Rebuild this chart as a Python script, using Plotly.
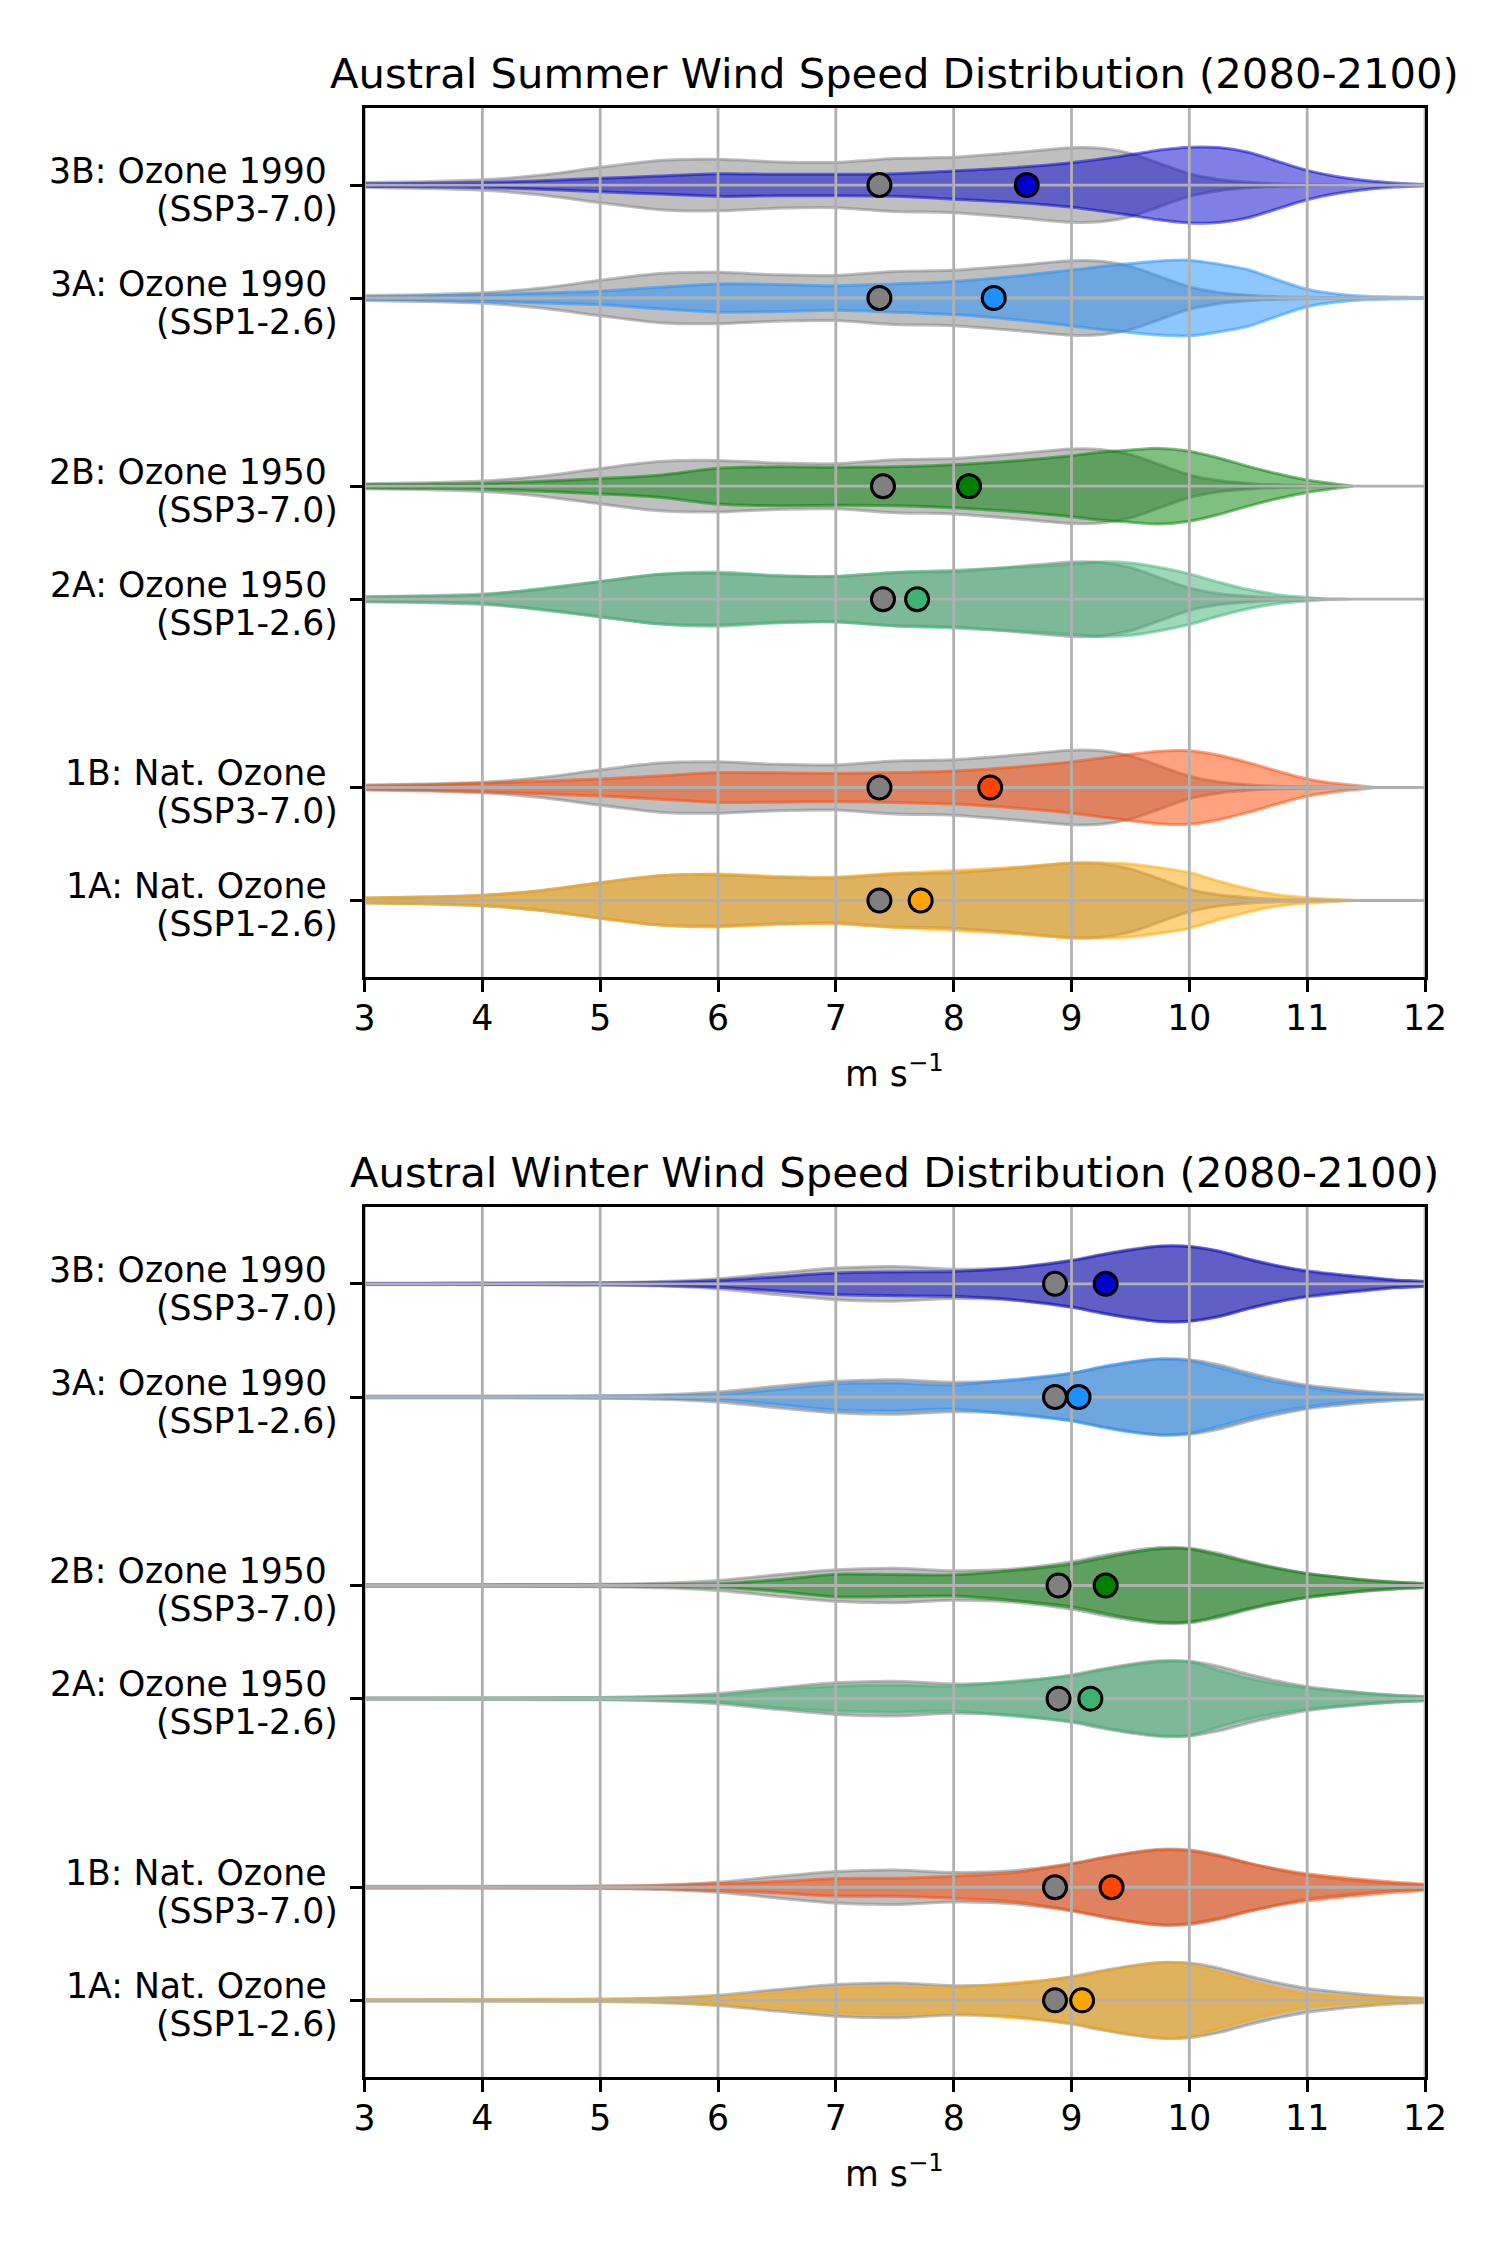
import plotly.graph_objects as go

# categories, bottom to top
LABELS = ["1A: Nat. Ozone", "1B: Nat. Ozone", "2A: Ozone 1950",
          "2B: Ozone 1950", "3A: Ozone 1990", "3B: Ozone 1990"]
SCENARIOS = ["(SSP1-2.6)", "(SSP3-7.0)", "(SSP1-2.6)",
             "(SSP3-7.0)", "(SSP1-2.6)", "(SSP3-7.0)"]
POSITIONS = [0, 1, 2.667, 3.667, 5.333, 6.333]
COLORS = ["#FFA500", "#FF4500", "#3CB371", "#008000", "#1E90FF", "#0000CD"]
GRAY = "#808080"

X_TICKS = [3, 4, 5, 6, 7, 8, 9, 10, 11, 12]
X_RANGE = [3, 12]
Y_RANGE = [-0.68, 7.015]

# wind speed grid (m/s) for the violin half widths
GRID_X = [3, 3.5, 4, 4.5, 5, 5.5, 6, 6.5, 7, 7.5, 8, 8.5, 9, 9.25, 9.5, 9.75,
          10, 10.25, 10.5, 10.75, 11, 11.25, 11.5, 11.75, 12]

# ---- austral summer ----
summer_gray = [0.022, 0.03, 0.046, 0.088, 0.157, 0.218, 0.228, 0.205, 0.2, 0.235,
               0.245, 0.285, 0.33, 0.325, 0.28, 0.19, 0.1, 0.05, 0.025, 0.012,
               0.006, 0.002]
summer_gray_end = 11.35
summer_1a = [0.022, 0.03, 0.045, 0.087, 0.157, 0.217, 0.234, 0.213, 0.207, 0.24,
             0.265, 0.293, 0.332, 0.333, 0.323, 0.29, 0.247, 0.17, 0.103, 0.05,
             0.024, 0.008]
summer_1b = [0.015, 0.025, 0.038, 0.056, 0.076, 0.103, 0.132, 0.13, 0.125, 0.132,
             0.147, 0.18, 0.227, 0.26, 0.294, 0.322, 0.325, 0.285, 0.22, 0.145,
             0.076, 0.035, 0.01]
summer_2a = [0.02, 0.025, 0.037, 0.095, 0.155, 0.22, 0.24, 0.21, 0.203, 0.237,
             0.256, 0.28, 0.31, 0.33, 0.32, 0.28, 0.224, 0.15, 0.085, 0.04, 0.015]
summer_2b = [0.015, 0.018, 0.024, 0.045, 0.068, 0.098, 0.158, 0.173, 0.169, 0.172,
             0.19, 0.223, 0.27, 0.3, 0.32, 0.335, 0.31, 0.25, 0.176, 0.11, 0.055,
             0.018]
summer_3a = [0.012, 0.018, 0.028, 0.045, 0.06, 0.095, 0.125, 0.12, 0.108, 0.125,
             0.147, 0.19, 0.247, 0.278, 0.305, 0.328, 0.335, 0.3, 0.25, 0.16,
             0.077, 0.035, 0.015, 0.008, 0.005]
summer_3b = [0.012, 0.015, 0.022, 0.038, 0.06, 0.08, 0.1, 0.095, 0.095, 0.1,
             0.125, 0.153, 0.197, 0.23, 0.268, 0.31, 0.335, 0.332, 0.29, 0.21,
             0.13, 0.075, 0.04, 0.018, 0.006]
summer_ends = [11.42, 11.58, 11.15, 11.39, 12.1, 12.1]
summer_gray_mean = [7.37, 7.37, 7.40, 7.40, 7.37, 7.37]
summer_mean = [7.72, 8.31, 7.69, 8.13, 8.34, 8.62]

# ---- austral winter ----
winter_gray = [0.008, 0.008, 0.008, 0.009, 0.011, 0.02, 0.045, 0.095, 0.14, 0.153,
               0.13, 0.145, 0.21, 0.26, 0.305, 0.335, 0.33, 0.285, 0.215, 0.155,
               0.105, 0.075, 0.05, 0.03, 0.018]
winter_gray_end = 12.1
winter_1a = [0.004, 0.004, 0.005, 0.006, 0.008, 0.012, 0.03, 0.07, 0.11, 0.125,
             0.11, 0.154, 0.2, 0.25, 0.294, 0.33, 0.318, 0.25, 0.176, 0.11, 0.06,
             0.04, 0.03, 0.02, 0.015]
winter_1b = [0.004, 0.004, 0.005, 0.006, 0.008, 0.014, 0.03, 0.05, 0.078, 0.08,
             0.098, 0.128, 0.205, 0.255, 0.3, 0.33, 0.322, 0.275, 0.213, 0.16,
             0.12, 0.09, 0.066, 0.045, 0.025]
winter_2a = [0.004, 0.004, 0.005, 0.006, 0.008, 0.014, 0.03, 0.08, 0.11, 0.12,
             0.11, 0.154, 0.2, 0.25, 0.294, 0.325, 0.325, 0.25, 0.18, 0.13, 0.095,
             0.068, 0.045, 0.027, 0.015]
winter_2b = [0.004, 0.004, 0.005, 0.006, 0.007, 0.01, 0.015, 0.05, 0.1, 0.097,
             0.094, 0.132, 0.19, 0.24, 0.29, 0.325, 0.323, 0.27, 0.205, 0.15,
             0.106, 0.075, 0.047, 0.028, 0.015]
winter_3a = [0.004, 0.004, 0.005, 0.006, 0.008, 0.012, 0.022, 0.066, 0.115, 0.123,
             0.106, 0.154, 0.21, 0.265, 0.31, 0.335, 0.32, 0.26, 0.19, 0.13, 0.088,
             0.055, 0.03, 0.018, 0.012]
winter_3b = [0.004, 0.004, 0.005, 0.006, 0.008, 0.014, 0.03, 0.063, 0.095, 0.105,
             0.11, 0.14, 0.205, 0.255, 0.3, 0.333, 0.33, 0.29, 0.22, 0.16, 0.115,
             0.085, 0.06, 0.035, 0.02]
winter_ends = [12.1, 12.1, 12.1, 12.1, 12.1, 12.1]
winter_gray_mean = [8.86, 8.86, 8.89, 8.89, 8.86, 8.86]
winter_mean = [9.09, 9.34, 9.16, 9.29, 9.06, 9.29]

FONT = "DejaVu Sans"


def rgba(hexcol, a):
    h = hexcol.lstrip("#")
    return "rgba(%d,%d,%d,%s)" % (int(h[0:2], 16), int(h[2:4], 16), int(h[4:6], 16), a)


def violin(widths, end, pos, color, xa, ya):
    xs = GRID_X[:len(widths)] + [end]
    hw = list(widths) + [0]
    x = xs + xs[::-1]
    y = [pos + w for w in hw] + [pos - w for w in hw[::-1]]
    return go.Scatter(x=x, y=y, xaxis=xa, yaxis=ya, mode="lines", fill="toself",
                      fillcolor=rgba(color, 0.5),
                      line=dict(color=rgba(color, 0.5), width=3, shape="spline", smoothing=0.8),
                      hoverinfo="skip", showlegend=False)


def grid(xa, ya):
    # matplotlib draws its grid above the violin bodies, so grid lines are a trace here
    gx, gy = [], []
    for t in X_TICKS:
        gx += [t, t, None]
        gy += [Y_RANGE[0], Y_RANGE[1], None]
    for p in POSITIONS:
        gx += [X_RANGE[0] - 1, X_RANGE[1] + 1, None]
        gy += [p, p, None]
    return go.Scatter(x=gx, y=gy, xaxis=xa, yaxis=ya, mode="lines",
                      line=dict(color="#b0b0b0", width=2.8),
                      hoverinfo="skip", showlegend=False)


def means(vals, face, xa, ya):
    return go.Scatter(x=vals, y=POSITIONS, xaxis=xa, yaxis=ya, mode="markers",
                      marker=dict(size=23, color=face, line=dict(color="black", width=3)),
                      showlegend=False)


fig = go.Figure()

panels = [
    ("x", "y", summer_gray, summer_gray_end,
     [summer_1a, summer_1b, summer_2a, summer_2b, summer_3a, summer_3b],
     summer_ends, summer_gray_mean, summer_mean),
    ("x2", "y2", winter_gray, winter_gray_end,
     [winter_1a, winter_1b, winter_2a, winter_2b, winter_3a, winter_3b],
     winter_ends, winter_gray_mean, winter_mean),
]

for xa, ya, gw, gend, series, ends, gmean, cmean in panels:
    for i, pos in enumerate(POSITIONS):
        fig.add_trace(violin(gw, gend, pos, GRAY, xa, ya))
        fig.add_trace(violin(series[i], ends[i], pos, COLORS[i], xa, ya))
    fig.add_trace(grid(xa, ya))
    fig.add_trace(means(gmean, GRAY, xa, ya))
    fig.add_trace(means(cmean, COLORS, xa, ya))

xdom = [364.5 / 1500, 1425 / 1500]
axis_common = dict(showline=True, linecolor="black", linewidth=2.8, mirror=True,
                   ticks="outside", ticklen=12, tickwidth=2.8, tickcolor="black",
                   showgrid=False, zeroline=False, automargin=False,
                   tickfont=dict(family=FONT, size=34.7, color="black"))

fig.update_layout(
    width=1500, height=2250, autosize=False,
    margin=dict(l=0, r=0, t=0, b=0),
    paper_bgcolor="white", plot_bgcolor="white",
    font=dict(family=FONT, color="black"),
    xaxis=dict(domain=xdom, anchor="y", range=X_RANGE, tickvals=X_TICKS,
               ticklabelstandoff=-4, **axis_common),
    yaxis=dict(domain=[1 - 977.3 / 2250, 1 - 108 / 2250], anchor="x", range=Y_RANGE,
               tickvals=POSITIONS, showticklabels=False, **axis_common),
    xaxis2=dict(domain=xdom, anchor="y2", range=X_RANGE, tickvals=X_TICKS,
                ticklabelstandoff=-4, **axis_common),
    yaxis2=dict(domain=[1 - 2077.3 / 2250, 1 - 1206.7 / 2250], anchor="x2", range=Y_RANGE,
                tickvals=POSITIONS, showticklabels=False, **axis_common),
)

# two-line category labels, right aligned next to the y ticks
for ya in ["y", "y2"]:
    for lab, scen, pos in zip(LABELS, SCENARIOS, POSITIONS):
        fig.add_annotation(text=lab, x=328.5 / 1500, y=pos + 0.125, xref="paper", yref=ya,
                           xanchor="right", yanchor="middle", showarrow=False,
                           font=dict(family=FONT, size=34.7, color="black"))
        fig.add_annotation(text=scen, x=339.5 / 1500, y=pos - 0.21, xref="paper", yref=ya,
                           xanchor="right", yanchor="middle", showarrow=False,
                           font=dict(family=FONT, size=34.7, color="black"))

xc = (xdom[0] + xdom[1]) / 2
titles = [("Austral Summer Wind Speed Distribution (2080-2100)", 73),
          ("Austral Winter Wind Speed Distribution (2080-2100)", 1172)]
for text, ypx in titles:
    fig.add_annotation(text=text, x=xc, y=1 - ypx / 2250, xref="paper", yref="paper",
                       xanchor="center", yanchor="middle", showarrow=False,
                       font=dict(family=FONT, size=41.7, color="black"))
for ypx in [1071, 2171]:
    fig.add_annotation(text="m s<sup>−1</sup>", x=xc, y=1 - ypx / 2250, xref="paper",
                       yref="paper", xanchor="center", yanchor="middle", showarrow=False,
                       font=dict(family=FONT, size=34.7, color="black"))

fig.write_html("out.html", config={"displayModeBar": False},
               post_script="document.body.style.margin='0px';")
